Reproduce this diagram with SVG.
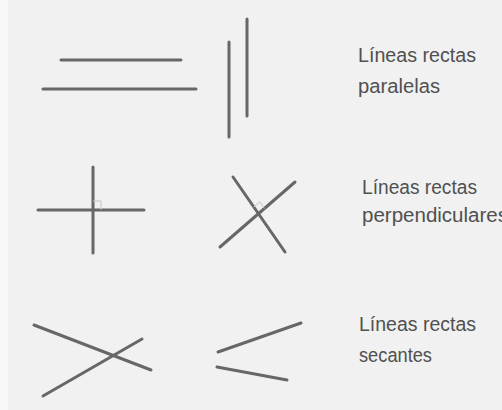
<svg xmlns="http://www.w3.org/2000/svg" width="502" height="410" viewBox="0 0 502 410">
<style>
.ln{stroke:#676767;stroke-width:3;stroke-linecap:round;fill:none}
.mk{stroke:#c4c4c4;stroke-width:1;fill:none}
.tx{font-family:"Liberation Sans","DejaVu Sans",sans-serif;font-size:19.5px;fill:#505050}
</style>
<rect width="502" height="410" fill="#f1f1f1"/>
<rect x="0" y="0" width="8" height="410" fill="#f8f8f8"/>
<g id="paralelas-h">
<line class="ln" x1="61" y1="60" x2="181" y2="60"/>
<line class="ln" x1="43" y1="89" x2="196" y2="89"/>
</g>
<g id="paralelas-v">
<line class="ln" x1="229" y1="42" x2="229" y2="137"/>
<line class="ln" x1="247" y1="19" x2="247" y2="116"/>
</g>
<g id="paralelas-label">
<text class="tx" x="358" y="62" textLength="118" lengthAdjust="spacingAndGlyphs">Líneas rectas</text>
<text class="tx" x="358" y="93" textLength="82" lengthAdjust="spacingAndGlyphs">paralelas</text>
</g>
<g id="perpendiculares-cruz">
<line class="ln" x1="38" y1="210" x2="144" y2="210"/>
<line class="ln" x1="93" y1="167" x2="93" y2="253"/>
<polyline class="mk" points="93,201 101,201 101,210"/>
</g>
<g id="perpendiculares-x">
<line class="ln" x1="220" y1="247" x2="295" y2="182"/>
<line class="ln" x1="233" y1="177" x2="285" y2="252"/>
<polyline class="mk" points="253.8,207.1 259.9,201.9 264.4,208.5"/>
</g>
<g id="perpendiculares-label">
<text class="tx" x="362" y="194" textLength="115" lengthAdjust="spacingAndGlyphs">Líneas rectas</text>
<text class="tx" x="362" y="222" textLength="146" lengthAdjust="spacingAndGlyphs">perpendiculares</text>
</g>
<g id="secantes-cruce">
<line class="ln" x1="34" y1="325" x2="151" y2="370"/>
<line class="ln" x1="43" y1="396" x2="142" y2="339"/>
</g>
<g id="secantes-angulo">
<line class="ln" x1="218" y1="352" x2="301" y2="323"/>
<line class="ln" x1="217" y1="367" x2="287" y2="380"/>
</g>
<g id="secantes-label">
<text class="tx" x="359" y="331" textLength="117" lengthAdjust="spacingAndGlyphs">Líneas rectas</text>
<text class="tx" x="359" y="362" textLength="73" lengthAdjust="spacingAndGlyphs">secantes</text>
</g>
</svg>
